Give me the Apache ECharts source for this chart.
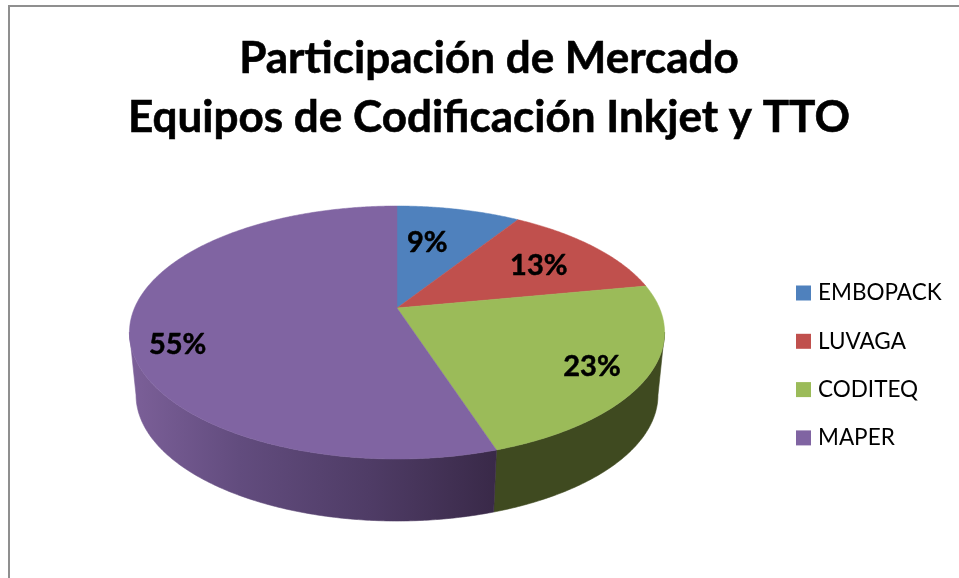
<!DOCTYPE html>
<html><head><meta charset="utf-8">
<style>html,body{margin:0;padding:0;background:#fff}#c{width:959px;height:578px}</style>
<script src="https://cdn.jsdelivr.net/npm/echarts@6/dist/echarts.min.js"></script>
</head><body><div id="c"></div>
<script>
const titleLines = ['Participación de Mercado', 'Equipos de Codificación Inkjet y TTO'];
const categories = ['EMBOPACK', 'LUVAGA', 'CODITEQ', 'MAPER'];
const values = [9, 13, 23, 55];
const topColors = ['#4f81bd', '#c0504d', '#9bbb59', '#8064a2'];

// Perspective of the disc: top rim and bottom rim planes
const topPlane = {cx: 397, cy: 308, a: 262.5, b: 121.75, p: 0.1937};
const botPlane = {cx: 397, cy: 371, a: 256.2, b: 121.5, p: 0.19};
const WALL_FROM = 101, WALL_TO = 259; // visible part of the side, degrees clockwise from top
const labelRadius = [0.61, 0.687, 0.81, 0.84];
const labelNudge = [-4, 1.6, 2.4, -11];

const total = values.reduce((s, v) => s + v, 0);
const startAngle = i => values.slice(0, i).reduce((s, v) => s + v, 0) / total * 360;

function project(plane, deg, r) {
  const t = deg * Math.PI / 180, u = r * Math.sin(t), v = r * Math.cos(t), d = 1 + plane.p * v;
  return [plane.cx + plane.a * u / d, plane.cy - plane.b * v / d];
}
function arc(plane, from, to) {
  const pts = [], n = Math.max(2, Math.ceil(Math.abs(to - from) * 2));
  for (let k = 0; k <= n; k++) pts.push(project(plane, from + (to - from) * k / n, 1));
  return pts;
}
function wallFill(i) {
  if (i === 3) {
    return new echarts.graphic.LinearGradient(0, 0, 1, 0, [
      {offset: 0, color: '#7c6099'}, {offset: 0.3, color: '#624c7e'},
      {offset: 0.65, color: '#4f3c66'}, {offset: 1, color: '#392948'}
    ]);
  }
  return '#3f4a20';
}
function renderSlice(i) {
  return function () {
    const from = startAngle(i), to = from + values[i] / total * 360;
    const children = [];
    const wf = Math.max(from, WALL_FROM), wt = Math.min(to, WALL_TO);
    if (wt > wf) {
      const fill = wallFill(i);
      children.push({type: 'polygon', z2: 1,
        shape: {points: arc(topPlane, wf, wt).concat(arc(botPlane, wf, wt).reverse())},
        style: {fill: fill, stroke: fill, lineWidth: 0.6}});
    }
    children.push({type: 'polygon', z2: 2,
      shape: {points: [[topPlane.cx, topPlane.cy]].concat(arc(topPlane, from, to))},
      style: {fill: topColors[i], stroke: topColors[i], lineWidth: 0.5}});
    const pos = project(topPlane, (from + to) / 2 + labelNudge[i], labelRadius[i]);
    children.push({type: 'text', z2: 3, x: pos[0], y: pos[1],
      style: {text: values[i] + '%', fill: '#000', stroke: '#000', lineWidth: 0.5,
        align: 'center', verticalAlign: 'middle', font: 'bold 29px Lato'}});
    return {type: 'group', children};
  };
}
const chart = echarts.init(document.getElementById('c'), null, {renderer: 'canvas'});
chart.setOption({
  animation: false,
  backgroundColor: '#fff',
  title: {
    text: titleLines.join('\n'), left: 484, top: 24, textAlign: 'center',
    textStyle: {fontFamily: 'Lato', fontWeight: 'bold', fontSize: 44, lineHeight: 59, color: '#000',
      textBorderColor: '#000', textBorderWidth: 0.6}
  },
  legend: {
    orient: 'vertical', left: 796, top: 281.5, padding: 0, icon: 'rect', itemWidth: 15, itemHeight: 15,
    itemGap: 25.3, selectedMode: false, data: categories,
    textStyle: {fontFamily: 'Lato', fontSize: 22.5, color: '#000', padding: [0, 0, 0, 2], height: 23, lineHeight: 23}
  },
  graphic: [
    {type: 'line', shape: {x1: 9, y1: 6, x2: 959, y2: 6}, style: {stroke: '#8f8f8f', lineWidth: 2}},
    {type: 'line', shape: {x1: 9, y1: 5, x2: 9, y2: 578}, style: {stroke: '#8f8f8f', lineWidth: 2}}
  ],
  series: categories.map((name, i) => ({
    type: 'custom', name, coordinateSystem: 'none', silent: true,
    itemStyle: {color: topColors[i]},
    data: [values[i]],
    renderItem: renderSlice(i)
  }))
});
</script></body></html>
